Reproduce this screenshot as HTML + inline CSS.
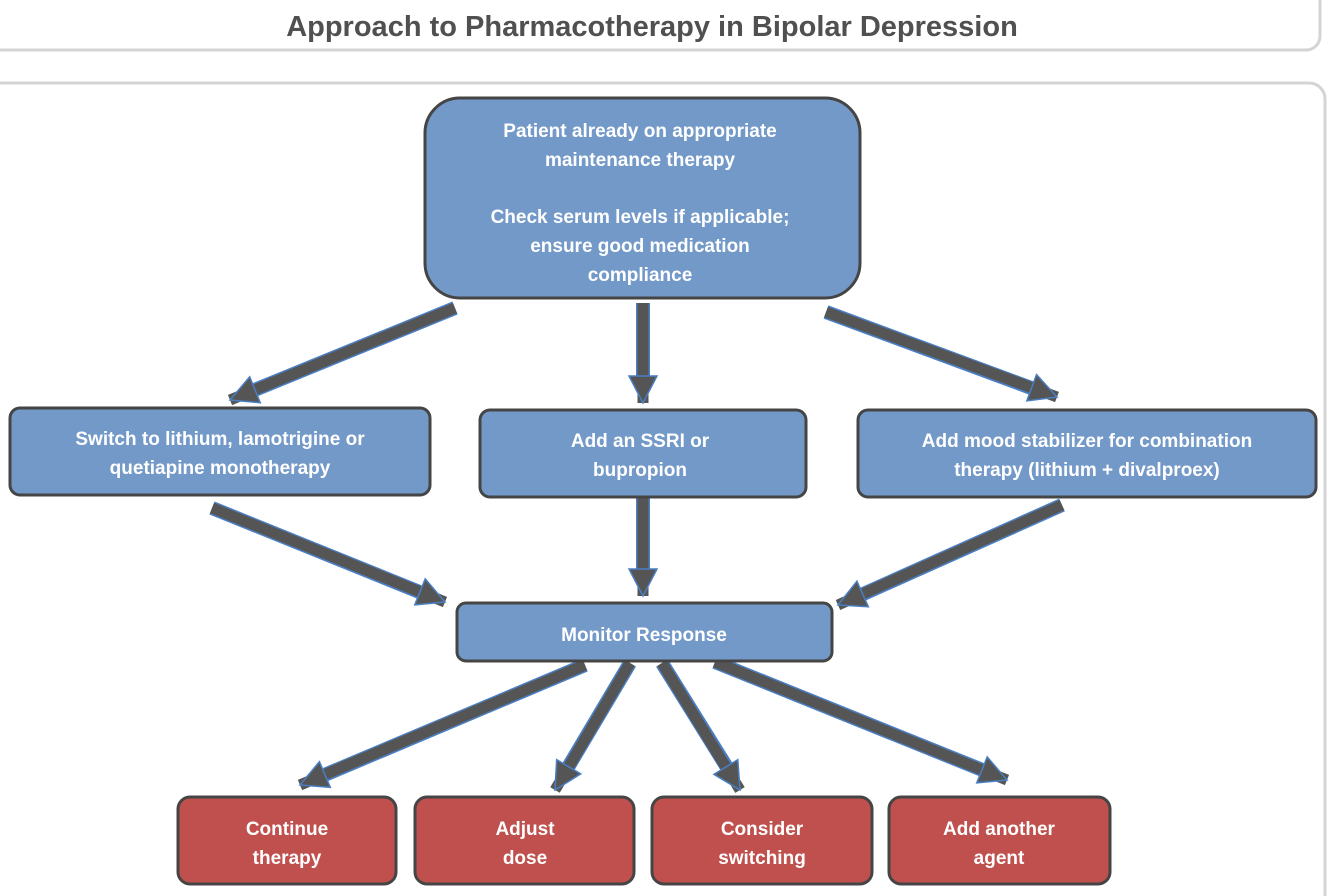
<!DOCTYPE html>
<html><head><meta charset="utf-8"><style>
html,body{margin:0;padding:0;background:#fff;width:1334px;height:896px;overflow:hidden}
.t{font-family:"Liberation Sans",Arial,sans-serif;font-weight:bold}
</style></head><body>
<svg width="1334" height="896" viewBox="0 0 1334 896" xmlns="http://www.w3.org/2000/svg">
<defs>
<marker id="h" markerUnits="userSpaceOnUse" markerWidth="40" markerHeight="40" refX="28" refY="16" orient="auto">
<path d="M1,2 L28,16 L1,30 Z" fill="#555" stroke="#4a7fc4" stroke-width="1.5"/>
</marker>
<filter id="sh"><feGaussianBlur stdDeviation="1.5"/></filter>
</defs>
<!-- title panel -->
<rect x="-20" y="-20" width="1340" height="70" rx="14" fill="#fff" stroke="#d4d4d4" stroke-width="3"/>
<text x="652" y="36" class="t" font-size="29" fill="#505050" text-anchor="middle">Approach to Pharmacotherapy in Bipolar Depression</text>
<!-- main panel -->
<rect x="-20" y="83" width="1345" height="840" rx="16" fill="#fff" stroke="#d4d4d4" stroke-width="3"/>

<!-- arrows -->
<g stroke-linecap="butt">
<g stroke="#4a7fc4" stroke-width="14" fill="none">
<line x1="455" y1="308" x2="252" y2="391"/>
<line x1="643" y1="303" x2="643" y2="378"/>
<line x1="826" y1="312" x2="1034" y2="389"/>
<line x1="212" y1="508" x2="422" y2="593"/>
<line x1="643" y1="497" x2="643" y2="571"/>
<line x1="1062" y1="505" x2="861" y2="595"/>
<line x1="585" y1="665" x2="322" y2="776"/>
<line x1="630" y1="663" x2="567" y2="769"/>
<line x1="662" y1="663" x2="728" y2="769"/>
<line x1="715" y1="662" x2="985" y2="771"/>
</g>
<g stroke="#555" stroke-width="11" fill="none">
<line x1="455" y1="308" x2="230" y2="400" marker-end="url(#h)"/>
<line x1="643" y1="303" x2="643" y2="403" marker-end="url(#h)"/>
<line x1="826" y1="312" x2="1057" y2="397" marker-end="url(#h)"/>
<line x1="212" y1="508" x2="445" y2="602" marker-end="url(#h)"/>
<line x1="643" y1="497" x2="643" y2="596" marker-end="url(#h)"/>
<line x1="1062" y1="505" x2="838" y2="605" marker-end="url(#h)"/>
<line x1="585" y1="665" x2="300" y2="785" marker-end="url(#h)"/>
<line x1="630" y1="663" x2="555" y2="790" marker-end="url(#h)"/>
<line x1="662" y1="663" x2="740" y2="790" marker-end="url(#h)"/>
<line x1="715" y1="662" x2="1007" y2="780" marker-end="url(#h)"/>
</g>
</g>

<!-- blue boxes -->
<g fill="#7399C9" stroke="#454545" stroke-width="3">
<rect x="425" y="98" width="435" height="200" rx="35"/>
<rect x="10" y="408" width="420" height="87" rx="10"/>
<rect x="480" y="410" width="326" height="87" rx="10"/>
<rect x="858" y="410" width="458" height="87" rx="10"/>
<rect x="457" y="603" width="375" height="58" rx="9"/>
</g>
<g fill="#C0504D" stroke="#454545" stroke-width="3">
<rect x="178" y="797" width="218" height="87" rx="12"/>
<rect x="415" y="797" width="219" height="87" rx="12"/>
<rect x="652" y="797" width="220" height="87" rx="12"/>
<rect x="889" y="797" width="221" height="87" rx="12"/>
</g>

<g class="t" font-size="19" fill="#fff" text-anchor="middle">
<text x="640" y="137">Patient already on appropriate</text>
<text x="640" y="166">maintenance therapy</text>
<text x="640" y="223">Check serum levels if applicable;</text>
<text x="640" y="252">ensure good medication</text>
<text x="640" y="281">compliance</text>
<text x="220" y="445">Switch to lithium, lamotrigine or</text>
<text x="220" y="474">quetiapine monotherapy</text>
<text x="640" y="447">Add an SSRI or</text>
<text x="640" y="476">bupropion</text>
<text x="1087" y="447">Add mood stabilizer for combination</text>
<text x="1087" y="476">therapy (lithium + divalproex)</text>
<text x="644" y="641">Monitor Response</text>
<text x="287" y="835">Continue</text>
<text x="287" y="864">therapy</text>
<text x="525" y="835">Adjust</text>
<text x="525" y="864">dose</text>
<text x="762" y="835">Consider</text>
<text x="762" y="864">switching</text>
<text x="999" y="835">Add another</text>
<text x="999" y="864">agent</text>
</g>
</svg>
</body></html>
